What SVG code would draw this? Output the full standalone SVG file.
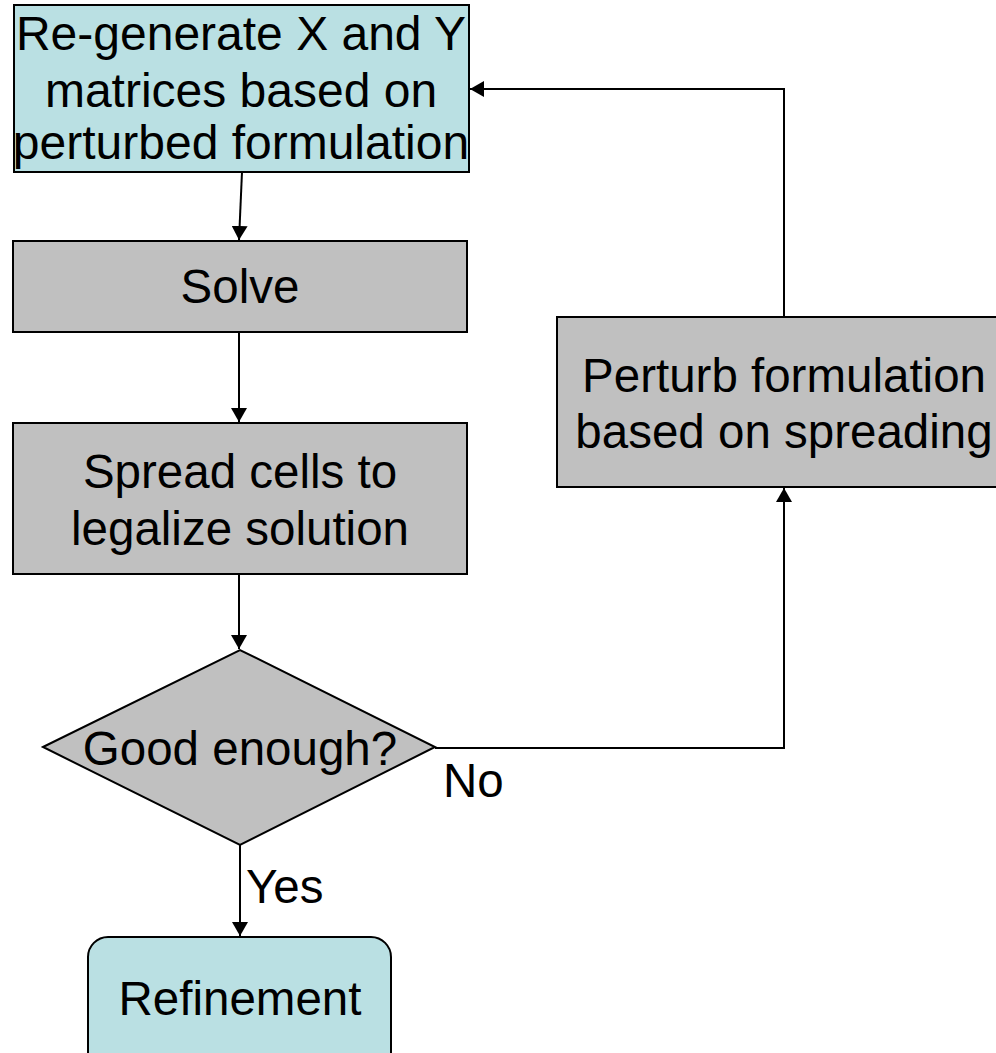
<svg xmlns="http://www.w3.org/2000/svg" width="996" height="1053" viewBox="0 0 996 1053">
  <style>
    .box { stroke: #000; stroke-width: 2; }
    .cyan { fill: #bae0e3; }
    .grey { fill: #c0c0c0; }
    .lbl { font-family: "Liberation Sans", Arial, sans-serif; font-size: 47.5px; fill: #000; }
    .big { font-size: 48px; }
    .mid { text-anchor: middle; }
    .wire { fill: none; stroke: #000; stroke-width: 2; }
  </style>
  <defs>
    <marker id="arrow" viewBox="0 0 14 16" refX="14" refY="8" markerWidth="14" markerHeight="16" markerUnits="userSpaceOnUse" orient="auto">
      <path d="M0,0 L14,8 L0,16 Z" fill="#000"/>
    </marker>
  </defs>
  <rect width="996" height="1053" fill="#fff"/>

  <g id="connectors">
    <path class="wire" d="M242,172 L239,240" marker-end="url(#arrow)"/>
    <path class="wire" d="M239,332 L239,422" marker-end="url(#arrow)"/>
    <path class="wire" d="M239,574 L239,649" marker-end="url(#arrow)"/>
    <path class="wire" d="M240,845 L240,936" marker-end="url(#arrow)"/>
    <path class="wire" d="M435,748 L784,748 L784,488" marker-end="url(#arrow)"/>
    <path class="wire" d="M784,317 L784,89 L470,89" marker-end="url(#arrow)"/>
  </g>

  <g id="regenerate">
    <rect class="box cyan" x="14" y="5" width="455" height="167"/>
    <text class="lbl big mid" x="241" y="50">Re-generate X and Y</text>
    <text class="lbl big mid" x="241" y="107">matrices based on</text>
    <text class="lbl big mid" x="241" y="159">perturbed formulation</text>
  </g>

  <g id="solve">
    <rect class="box grey" x="13" y="241" width="454" height="91"/>
    <text class="lbl mid" x="240" y="303">Solve</text>
  </g>

  <g id="spread">
    <rect class="box grey" x="13" y="423" width="454" height="151"/>
    <text class="lbl mid" x="240" y="488">Spread cells to</text>
    <text class="lbl mid" x="240" y="545">legalize solution</text>
  </g>

  <g id="decision">
    <polygon class="box grey" points="43,747 240,650 435,747 240,845"/>
    <text class="lbl mid" x="240" y="765">Good enough?</text>
  </g>

  <g id="perturb">
    <rect class="box grey" x="557" y="317" width="455" height="170"/>
    <text class="lbl mid" x="784" y="392">Perturb formulation</text>
    <text class="lbl mid" x="784" y="448">based on spreading</text>
  </g>

  <g id="refinement">
    <rect class="box cyan" x="88" y="937" width="303" height="140" rx="20" ry="20"/>
    <text class="lbl mid" x="240" y="1015">Refinement</text>
  </g>

  <g id="edge-labels">
    <text class="lbl" x="443" y="797">No</text>
    <text class="lbl" x="246" y="903">Yes</text>
  </g>
</svg>
